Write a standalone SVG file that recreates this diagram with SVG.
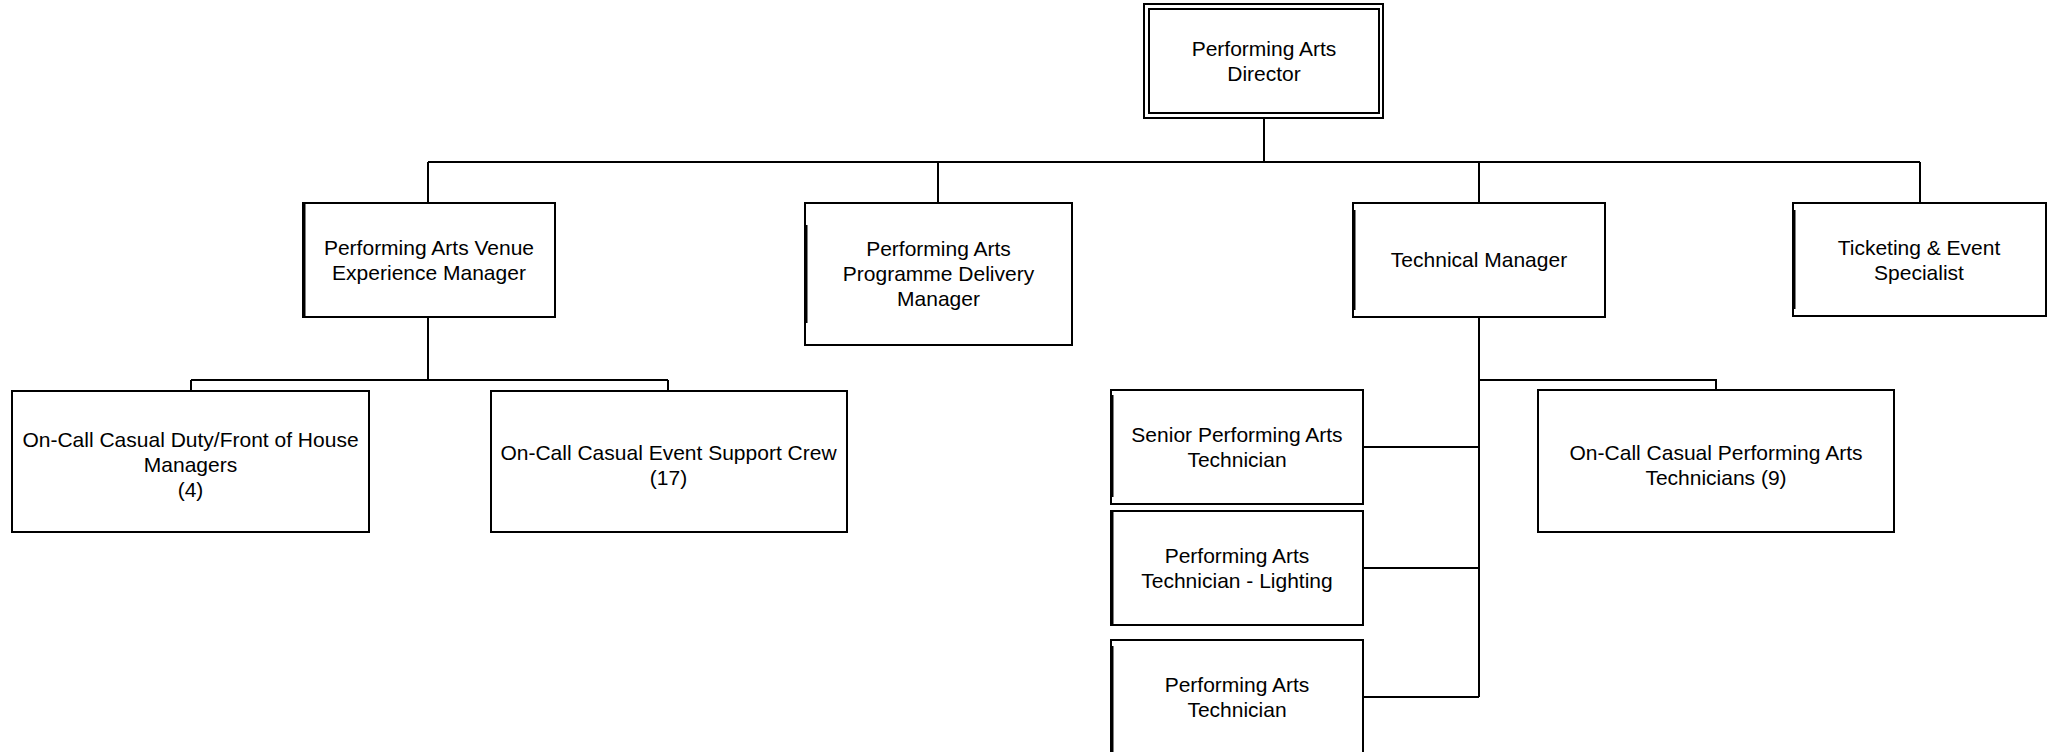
<svg xmlns="http://www.w3.org/2000/svg" width="2054" height="752" viewBox="0 0 2054 752">
<style>
.box{fill:#fff;stroke:#000;stroke-width:2}
.edge{stroke:#000;stroke-width:2;fill:none}
.lx{stroke:#000;stroke-width:2}
text{font-family:"Liberation Sans",Arial,sans-serif;font-size:21px;fill:#000;text-anchor:middle}
</style>
<rect width="2054" height="752" fill="#fff"/>
<g id="connectors">
<path class="edge" d="M1264 118V162M428 162H1920M428 162V203M938 162V203M1479 162V203M1920 162V203"/>
<path class="edge" d="M428 317V380M191 380H668M191 380V391M668 380V391"/>
<path class="edge" d="M1479 317V697M1479 380H1716V390M1363 447H1479M1363 568H1479M1363 697H1479"/>
</g>
<g id="director">
<rect class="box" x="1144" y="4" width="239" height="114"/>
<rect class="box" x="1149" y="9" width="230" height="104"/>
<text x="1264" y="56">Performing Arts</text>
<text x="1264" y="81">Director</text>
</g>
<g id="venue">
<rect class="box" x="303" y="203" width="252" height="114"/>
<line class="lx" x1="304.5" y1="204" x2="304.5" y2="316"/>
<text x="429" y="255">Performing Arts Venue</text>
<text x="429" y="280">Experience Manager</text>
</g>
<g id="programme">
<rect class="box" x="805" y="203" width="267" height="142"/>
<line class="lx" x1="806.5" y1="225" x2="806.5" y2="323"/>
<text x="938.5" y="256">Performing Arts</text>
<text x="938.5" y="281">Programme Delivery</text>
<text x="938.5" y="306">Manager</text>
</g>
<g id="technical">
<rect class="box" x="1353" y="203" width="252" height="114"/>
<line class="lx" x1="1354.5" y1="210" x2="1354.5" y2="310"/>
<text x="1479" y="267">Technical Manager</text>
</g>
<g id="ticketing">
<rect class="box" x="1793" y="203" width="253" height="113"/>
<line class="lx" x1="1794.5" y1="210" x2="1794.5" y2="309"/>
<text x="1919" y="255">Ticketing &amp; Event</text>
<text x="1919" y="280">Specialist</text>
</g>
<g id="duty-managers">
<rect class="box" x="12" y="391" width="357" height="141"/>
<text x="190.5" y="447">On-Call Casual Duty/Front of House</text>
<text x="190.5" y="472">Managers</text>
<text x="190.5" y="497">(4)</text>
</g>
<g id="event-crew">
<rect class="box" x="491" y="391" width="356" height="141"/>
<text x="668.5" y="460">On-Call Casual Event Support Crew</text>
<text x="668.5" y="485">(17)</text>
</g>
<g id="senior-tech">
<rect class="box" x="1111" y="390" width="252" height="114"/>
<line class="lx" x1="1112.5" y1="395" x2="1112.5" y2="497"/>
<text x="1237" y="442">Senior Performing Arts</text>
<text x="1237" y="467">Technician</text>
</g>
<g id="lighting-tech">
<rect class="box" x="1111" y="511" width="252" height="114"/>
<line class="lx" x1="1112.5" y1="512" x2="1112.5" y2="624"/>
<text x="1237" y="563">Performing Arts</text>
<text x="1237" y="588">Technician - Lighting</text>
</g>
<g id="tech">
<rect class="box" x="1111" y="640" width="252" height="116"/>
<line class="lx" x1="1112.5" y1="646" x2="1112.5" y2="752"/>
<text x="1237" y="692">Performing Arts</text>
<text x="1237" y="717">Technician</text>
</g>
<g id="casual-techs">
<rect class="box" x="1538" y="390" width="356" height="142"/>
<text x="1716" y="460">On-Call Casual Performing Arts</text>
<text x="1716" y="485">Technicians (9)</text>
</g>
</svg>
